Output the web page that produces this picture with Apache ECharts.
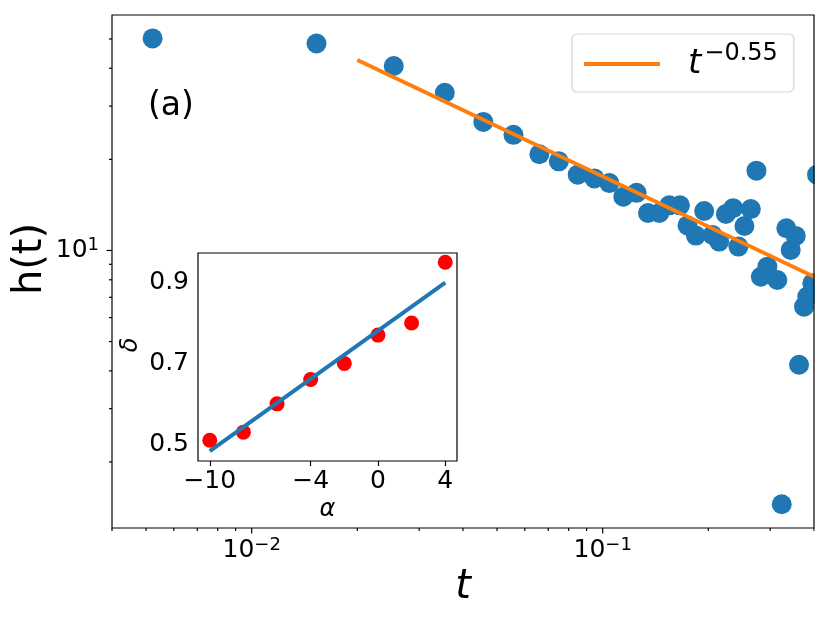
<!DOCTYPE html>
<html>
<head>
    <meta charset="utf-8">
    <title>h(t)</title>
    <style>
        body { margin: 0; padding: 0; background: #fff; }
        #chart { width: 830px; height: 623px; }
    </style>
</head>
<body>
    <div id="chart"></div>
    <script src="https://cdn.jsdelivr.net/npm/echarts@6/dist/echarts.min.js"></script>
    <script>
        // main panel data: h(t) against t, log-log
        const tData = [0.00522, 0.0153, 0.0254, 0.0355, 0.0457, 0.0557, 0.0660, 0.0750, 0.0849, 0.0947,
            0.1045, 0.1145, 0.1249, 0.1346, 0.1450, 0.1548, 0.1660, 0.1745, 0.1843, 0.1946,
            0.2055, 0.2147, 0.2244, 0.2353, 0.2436, 0.2534, 0.2643, 0.2742, 0.2822, 0.2946,
            0.3145, 0.3336, 0.3433, 0.3548, 0.3626, 0.3237, 0.3747, 0.3828, 0.3957, 0.4080];
        const hData = [50.2, 48.3, 40.7, 33.2, 26.6, 24.1, 20.8, 19.7, 17.8, 17.3,
            16.7, 15.05, 15.5, 13.3, 13.3, 14.1, 14.1, 12.1, 11.2, 13.5,
            11.25, 10.7, 13.2, 13.8, 10.3, 12.05, 13.7, 18.35, 8.19, 8.84,
            7.99, 11.84, 10.04, 11.17, 4.19, 1.45, 6.52, 7.04, 7.79, 17.8];
        // fitted power law t^-0.55, its two ends
        const fitT = [0.02, 0.41];
        const fitH = [42.6, 8.08];
        const fitName = 't^-0.55';

        // inset data: delta against alpha
        const alphaVals = [-10, -8, -6, -4, -2, 0, 2, 4];
        const deltaVals = [0.51, 0.53, 0.60, 0.66, 0.70, 0.77, 0.80, 0.95];
        const fitAlpha = [-10, 4];
        const fitDelta = [0.483, 0.90];

        // ticks
        const xMajorTicks = [0.01, 0.1];
        const xMinorTicks = [0.004, 0.005, 0.006, 0.007, 0.008, 0.009,
            0.02, 0.03, 0.04, 0.05, 0.06, 0.07, 0.08, 0.09, 0.2, 0.3, 0.4];
        const yMajorTicks = [10];
        const yMinorTicks = [2, 3, 4, 5, 6, 7, 8, 9, 20, 30, 40, 50];
        const insetXTicks = [-10, -4, 0, 4];
        const insetYTicks = [0.5, 0.7, 0.9];

        // axis ranges
        const X_MIN = 0.004, X_MAX = 0.4;
        const Y_MIN = 1.21, Y_MAX = 60;
        const IX_MIN = -10.7, IX_MAX = 4.7;
        const IY_MIN = 0.4586, IY_MAX = 0.973;

        const W = 830, H = 623;
        const GL = 112, GT = 15, GR = 16, GB = 95;

        const blue = '#1f77b4';
        const orange = '#ff7f0e';
        const red = '#ff0000';

        function powLabel(v) {
            const e = Math.log10(v);
            const r = Math.round(e);
            if (Math.abs(e - r) > 1e-6) return '';
            const s = r < 0 ? '\u2212' + (-r) : String(r);
            return '{b|10}{s|' + s + '}';
        }
        const powRich = {
            b: { fontSize: 25, lineHeight: 29, color: '#000' },
            s: { fontSize: 18, lineHeight: 18, verticalAlign: 'top', color: '#000' }
        };

        function tickItem(params, api) {
            const p = api.coord([api.value(0), api.value(1)]);
            const len = api.value(2) === 1 ? 5.5 : 3;
            const onX = api.value(3) === 0;
            const shape = onX
                ? { x1: p[0], y1: p[1], x2: p[0], y2: p[1] + len }
                : { x1: p[0] - len, y1: p[1], x2: p[0], y2: p[1] };
            return { type: 'line', shape: shape, style: { stroke: '#000', lineWidth: 1.2 } };
        }

        const xTickData = xMinorTicks.map(v => [v, Y_MIN, 0, 0])
            .concat(xMajorTicks.map(v => [v, Y_MIN, 1, 0]));
        const yTickData = yMinorTicks.map(v => [X_MIN, v, 0, 1])
            .concat(yMajorTicks.map(v => [X_MIN, v, 1, 1]));

        const chart = echarts.init(document.getElementById('chart'));
        const option = {
            animation: false,
            backgroundColor: '#fff',
            textStyle: { fontFamily: 'DejaVu Sans', color: '#000' },
            title: {
                text: '(a)', left: 148, top: 90, padding: 0,
                textStyle: { fontSize: 33, fontWeight: 'normal', color: '#000', fontFamily: 'DejaVu Sans' }
            },
            legend: {
                data: [{ name: fitName, icon: 'rect' }],
                left: 572, top: 34,
                padding: [8, 16, 11, 12],
                itemWidth: 76, itemHeight: 4,
                borderColor: '#d5d5d5', borderWidth: 1.2, borderRadius: 5,
                backgroundColor: 'rgba(255,255,255,0.8)',
                formatter: () => '{t|t}{s|\u22120.55}',
                textStyle: {
                    rich: {
                        t: { fontSize: 34, fontStyle: 'italic', lineHeight: 44, padding: [0, 0, 0, 23], color: '#000' },
                        s: { fontSize: 24, lineHeight: 24, verticalAlign: 'top', padding: [0, 0, 0, 3], color: '#000' }
                    }
                }
            },
            grid: [
                { left: GL, top: GT, right: GR, bottom: GB, show: false },
                { left: 198, top: 253, width: 259, height: 208, show: true,
                  backgroundColor: '#fff', borderColor: '#000', borderWidth: 1.2, z: 5 }
            ],
            xAxis: [
                {
                    type: 'log', logBase: 10, gridIndex: 0, min: X_MIN, max: X_MAX,
                    axisLine: { show: false }, axisTick: { show: false }, splitLine: { show: false },
                    axisLabel: { formatter: powLabel, rich: powRich, margin: 8, showMinLabel: false, showMaxLabel: false },
                    name: 't', nameLocation: 'middle', nameGap: 36,
                    nameTextStyle: { fontSize: 40, fontStyle: 'italic', color: '#000' }
                },
                {
                    type: 'value', gridIndex: 1, min: IX_MIN, max: IX_MAX,
                    axisLine: { show: false }, splitLine: { show: false },
                    axisTick: { show: true, customValues: insetXTicks, length: 5, lineStyle: { color: '#000', width: 1.2 } },
                    axisLabel: { customValues: insetXTicks, fontSize: 25, color: '#000', margin: 8,
                        formatter: v => (v < 0 ? '\u2212' + (-v) : String(v)) },
                    name: '\u03b1', nameLocation: 'middle', nameGap: 37,
                    nameTextStyle: { fontSize: 24, fontStyle: 'italic', color: '#000' }
                }
            ],
            yAxis: [
                {
                    type: 'log', logBase: 10, gridIndex: 0, min: Y_MIN, max: Y_MAX,
                    axisLine: { show: false }, axisTick: { show: false }, splitLine: { show: false },
                    axisLabel: { formatter: powLabel, rich: powRich, margin: 13, showMinLabel: false, showMaxLabel: false },
                    name: 'h(t)', nameLocation: 'middle', nameGap: 61, nameRotate: 90, nameMoveOverlap: false,
                    nameTextStyle: { fontSize: 40, color: '#000', padding: [0, 0, 0, 25] }
                },
                {
                    type: 'value', gridIndex: 1, min: IY_MIN, max: IY_MAX,
                    axisLine: { show: false }, splitLine: { show: false },
                    axisTick: { show: true, customValues: insetYTicks, length: 5, lineStyle: { color: '#000', width: 1.2 } },
                    axisLabel: { customValues: insetYTicks, fontSize: 25, color: '#000', margin: 9,
                        formatter: v => v.toFixed(1) },
                    name: '\u03b4', nameLocation: 'middle', nameGap: 55, nameRotate: 90,
                    nameTextStyle: { fontSize: 24, fontStyle: 'italic', color: '#000', padding: [0, 0, 0, 24] }
                }
            ],
            series: [
                {
                    name: 'data', type: 'scatter', xAxisIndex: 0, yAxisIndex: 0,
                    data: tData.map((t, i) => [t, hData[i]]),
                    symbolSize: 20, clip: false,
                    itemStyle: { color: blue, opacity: 1 }
                },
                {
                    name: fitName, type: 'line', xAxisIndex: 0, yAxisIndex: 0,
                    data: fitT.map((t, i) => [t, fitH[i]]),
                    showSymbol: false, symbol: 'none', clip: true,
                    lineStyle: { color: orange, width: 4 }, itemStyle: { color: orange }
                },
                {
                    name: 'xticks', type: 'custom', xAxisIndex: 0, yAxisIndex: 0,
                    data: xTickData, renderItem: tickItem, silent: true, z: 10
                },
                {
                    name: 'yticks', type: 'custom', xAxisIndex: 0, yAxisIndex: 0,
                    data: yTickData, renderItem: tickItem, silent: true, z: 10
                },
                {
                    name: 'inset points', type: 'scatter', xAxisIndex: 1, yAxisIndex: 1,
                    data: alphaVals.map((a, i) => [a, deltaVals[i]]),
                    symbolSize: 15, itemStyle: { color: red, opacity: 1 }, z: 6
                },
                {
                    name: 'inset fit', type: 'line', xAxisIndex: 1, yAxisIndex: 1,
                    data: fitAlpha.map((a, i) => [a, fitDelta[i]]),
                    symbol: 'none', lineStyle: { color: blue, width: 4 }, z: 7
                }
            ],
            graphic: [
                {
                    type: 'rect', z: 90, silent: true,
                    shape: { x: W - GR + 0.6, y: 0, width: GR, height: H },
                    style: { fill: '#fff' }
                },
                {
                    type: 'rect', z: 100, silent: true,
                    shape: { x: GL, y: GT, width: W - GL - GR, height: H - GT - GB },
                    style: { fill: 'none', stroke: '#000', lineWidth: 1.2 }
                }
            ]
        };
        chart.setOption(option);
    </script>
</body>
</html>
